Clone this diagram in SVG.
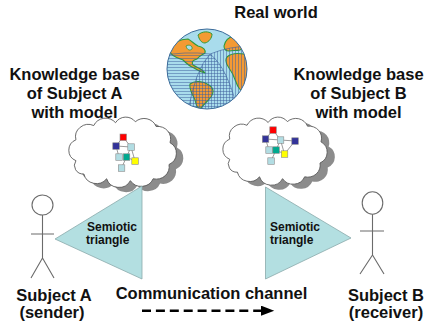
<svg xmlns="http://www.w3.org/2000/svg" xmlns:xlink="http://www.w3.org/1999/xlink" width="424" height="326" viewBox="0 0 424 326">
  <style>
    .lbl { font-family: "Liberation Sans", Arial, sans-serif; font-weight: bold; font-size: 16.5px; fill: #111; text-anchor: middle; }
    .tl { font-family: "Liberation Sans", Arial, sans-serif; font-weight: bold; font-size: 12px; fill: #111; }
    .stick { fill: none; stroke: #6b6b6b; stroke-width: 1.1; }
    .tri { fill: #b3dfe1; stroke: #8aa9ab; stroke-width: 0.8; }
    .cloud { fill: #fff; stroke: #555; stroke-width: 0.9; }
    .shadow { fill: #8c8c8c; }
    .net { stroke: #707070; stroke-width: 0.7; fill: none; }
    .sq { stroke: #8a8a8a; stroke-width: 0.6; }
    .red { fill: #ff0000; }
    .navy { fill: #333399; }
    .pale { fill: #b2dde3; }
    .teal { fill: #00a98f; }
    .yel { fill: #ffff00; }
    .land { fill: #f39a34; stroke: #2f9a3a; stroke-width: 1.1; stroke-linejoin: round; }
  </style>
  <defs>
    <path id="cloudShape" d="M6,46 A12,12 0 0 1 6,24 A13,13 0 0 1 24,9 A13,13 0 0 1 46,6 A12,12 0 0 1 66,5 A13,13 0 0 1 87,10 A13,13 0 0 1 101,27 A13,13 0 0 1 100,50 A13,13 0 0 1 84,65 A13,13 0 0 1 61,67 A13,13 0 0 1 37,65 A13,13 0 0 1 14,60 A9,9 0 0 1 6,46 Z"/>
    <pattern id="hatchH" width="3" height="3" patternUnits="userSpaceOnUse">
      <path d="M0,1.5H3" stroke="#3d5f9c" stroke-width="0.5"/>
    </pattern>
    <pattern id="hatchV" width="3" height="3" patternUnits="userSpaceOnUse">
      <path d="M1.5,0V3" stroke="#3d5f9c" stroke-width="0.5"/>
    </pattern>
    <clipPath id="globeClip">
      <circle cx="207" cy="69" r="40"/>
    </clipPath>
    <marker id="arrowHead" markerWidth="6" markerHeight="4" refX="0.5" refY="2" orient="auto" markerUnits="strokeWidth">
      <path d="M0,0 L5.2,2 L0,4 Z" fill="#000"/>
    </marker>
  </defs>

  <rect width="424" height="326" fill="#fff"/>

  <!-- Real world: globe -->
  <g id="real-world">
    <text class="lbl" x="276" y="18">Real world</text>
    <circle cx="207" cy="69" r="40" fill="#a9dcec"/>
    <g clip-path="url(#globeClip)">
      <!-- Greenland -->
      <path d="M198,35 C202,31 209,31 212,34 C212,38 209,42 205,43 C201,43 199,39 198,35 Z" fill="#f39a34" stroke="#2f9a3a" stroke-width="1"/>
      <!-- North America -->
      <path class="land" d="M168,50 C172,43 180,39 188,39 C192,41 194,44 198,46 C202,47 206,49 205,53 C202,55 199,56 197,59 C193,60 191,62 193,65 C196,67 200,68 203,71 L205,73 C201,72 197,70 194,68 C189,66 186,63 183,60 C178,58 172,57 168,50 Z"/>
      <path d="M186,46 C189,44 193,46 192,49 C190,51 187,50 186,46 Z" fill="#a9dcec" stroke="#2f9a3a" stroke-width="0.8"/>
      <!-- Europe -->
      <path class="land" d="M224,46 C225,41 229,37 234,36 C238,35 242,37 245,40 C246,44 244,48 240,50 C236,51 232,50 229,51 C226,51 224,49 224,46 Z"/>
      <!-- Africa -->
      <path class="land" d="M227,57 C231,53 238,53 244,54 C248,56 250,60 250,66 C249,74 247,82 244,90 C241,92 238,88 236,82 C234,76 232,72 229,68 C226,64 225,60 227,57 Z"/>
      <!-- South America -->
      <path class="land" d="M190,84 C195,80 203,81 209,85 C214,88 214,93 211,97 C208,101 204,104 201,108 C198,110 196,105 195,100 C193,95 189,90 190,84 Z"/>
      <!-- overlay hatching -->
      <path d="M160,56 Q185,51 210,54 Q228,68 238,112 L160,112 Z" fill="url(#hatchH)" stroke="#3d5f9c" stroke-width="0.6"/>
      <path d="M210,54 Q230,46 252,46 L252,112 L188,112 Q195,70 210,54 Z" fill="url(#hatchV)" stroke="#3d5f9c" stroke-width="0.6"/>
    </g>
    <circle cx="207" cy="69" r="40" fill="none" stroke="#3b6b9a" stroke-width="1"/>
  </g>

  <!-- Knowledge base A -->
  <g id="knowledge-a">
    <text class="lbl" x="74.5" y="80">Knowledge base</text>
    <text class="lbl" x="74.5" y="99">of Subject A</text>
    <text class="lbl" x="74.5" y="118">with model</text>
    <g transform="translate(70,117) scale(0.99,0.95)">
      <use xlink:href="#cloudShape" class="shadow" transform="translate(7,5)"/>
      <use xlink:href="#cloudShape" class="cloud"/>
    </g>
    <g class="net">
      <path d="M123,137 L116,146 M123,137 L131,147 M116,146 L131,147 M116,146 L119,157 M131,147 L126.5,157 M131,147 L135,161 M126.5,157 L135,161 M126.5,157 L121.5,168"/>
    </g>
    <rect class="sq red" x="120" y="134" width="6.5" height="6.5"/>
    <rect class="sq navy" x="112.8" y="142.8" width="6.5" height="6.5"/>
    <rect class="sq pale" x="127.8" y="143.8" width="6.5" height="6.5"/>
    <rect class="sq pale" x="115.8" y="153.8" width="6.5" height="6.5"/>
    <rect class="sq teal" x="123.3" y="153.8" width="6.5" height="6.5"/>
    <rect class="sq yel" x="131.8" y="157.8" width="6.5" height="6.5"/>
    <rect class="sq pale" x="118.3" y="164.8" width="6.5" height="6.5"/>
  </g>

  <!-- Knowledge base B -->
  <g id="knowledge-b">
    <text class="lbl" x="358.5" y="80">Knowledge base</text>
    <text class="lbl" x="358.5" y="99">of Subject B</text>
    <text class="lbl" x="358.5" y="118">with model</text>
    <g transform="translate(224,117) scale(0.96,0.92)">
      <use xlink:href="#cloudShape" class="shadow" transform="translate(8,5)"/>
      <use xlink:href="#cloudShape" class="cloud"/>
    </g>
    <g class="net">
      <path d="M273,130 L265.5,139 M273,130 L280.5,140 M265.5,139 L280.5,140 M265.5,139 L269,150 M280.5,140 L276,150 M280.5,140 L284.5,154 M276,150 L284.5,154 M295,141 L280.5,140 M295,141 L284.5,154 M276,150 L271,161"/>
    </g>
    <rect class="sq red" x="269.8" y="126.8" width="6.5" height="6.5"/>
    <rect class="sq navy" x="262.3" y="135.8" width="6.5" height="6.5"/>
    <rect class="sq pale" x="277.3" y="136.8" width="6.5" height="6.5"/>
    <rect class="sq navy" x="291.8" y="137.8" width="6.5" height="6.5"/>
    <rect class="sq pale" x="265.8" y="146.8" width="6.5" height="6.5"/>
    <rect class="sq teal" x="272.8" y="146.8" width="6.5" height="6.5"/>
    <rect class="sq yel" x="281.3" y="150.8" width="6.5" height="6.5"/>
    <rect class="sq pale" x="267.8" y="157.8" width="6.5" height="6.5"/>
  </g>

  <!-- Semiotic triangles -->
  <g id="triangle-a">
    <polygon class="tri" points="55,239 142,186 142,279"/>
    <text class="tl" x="87" y="230.5">Semiotic</text>
    <text class="tl" x="86" y="244">triangle</text>
  </g>
  <g id="triangle-b">
    <polygon class="tri" points="265.5,187 265.5,279 351,238"/>
    <text class="tl" x="270" y="230.5">Semiotic</text>
    <text class="tl" x="270" y="244">triangle</text>
  </g>

  <!-- Subject A (sender) -->
  <g id="subject-a">
    <ellipse class="stick" cx="42.5" cy="205" rx="10.5" ry="10"/>
    <path class="stick" d="M42.5,215 V258 M31,234 H54 M42.5,258 L31,278 M42.5,258 L54,278"/>
    <text class="lbl" x="54" y="301">Subject A</text>
    <text class="lbl" x="52" y="317.5">(sender)</text>
  </g>

  <!-- Subject B (receiver) -->
  <g id="subject-b">
    <ellipse class="stick" cx="372.5" cy="203" rx="10.3" ry="11.3"/>
    <path class="stick" d="M372.5,214.3 V255 M360,231 H384 M372.5,255 L360,274 M372.5,255 L384,274"/>
    <text class="lbl" x="386" y="301">Subject B</text>
    <text class="lbl" x="386" y="317.5">(receiver)</text>
  </g>

  <!-- Communication channel -->
  <g id="channel-label">
    <text class="lbl" x="211.5" y="299">Communication channel</text>
  </g>
  <g id="connectors">
    <path d="M142,310.7 H262" fill="none" stroke="#000" stroke-width="2.6" stroke-dasharray="9,4.9" marker-end="url(#arrowHead)"/>
  </g>
</svg>
